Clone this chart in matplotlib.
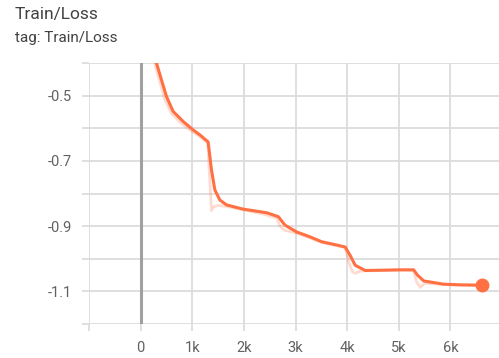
import matplotlib
matplotlib.use('Agg')
from matplotlib import pyplot
from matplotlib.ticker import FixedLocator, FuncFormatter

# smoothed training loss (step, value)
steps = [250, 305, 402, 499, 627, 821, 1016, 1160, 1307, 1372, 1437, 1534, 1664, 1987,
         2441, 2666, 2796, 3023, 3282, 3508, 3800, 3961, 4058, 4155, 4350, 4700, 5000,
         5287, 5360, 5482, 5870, 6200, 6615]
loss = [-0.37, -0.399, -0.451, -0.502, -0.548, -0.579, -0.605, -0.622, -0.642, -0.728,
        -0.789, -0.820, -0.835, -0.848, -0.859, -0.871, -0.897, -0.918, -0.933, -0.948,
        -0.958, -0.964, -0.99, -1.02, -1.036, -1.035, -1.034, -1.034, -1.05, -1.068,
        -1.078, -1.080, -1.081]

# raw training loss
raw_steps = [230, 280, 370, 460, 590, 780, 990, 1150, 1300, 1340, 1372, 1420, 1500,
             1600, 1800, 2052, 2350, 2634, 2700, 2780, 3087, 3508, 3800, 3961, 4030, 4100,
             4155, 4250, 4350, 4700, 5000, 5287, 5340, 5417, 5500, 5870, 6200, 6615]
raw_loss = [-0.37, -0.405, -0.457, -0.508, -0.553, -0.584, -0.609, -0.626, -0.646, -0.76,
            -0.852, -0.840, -0.837, -0.838, -0.844, -0.852, -0.862, -0.875, -0.900,
            -0.912, -0.925, -0.950, -0.960, -0.966, -1.01, -1.040, -1.045, -1.038,
            -1.037, -1.036, -1.035, -1.035, -1.07, -1.088, -1.075, -1.079, -1.081, -1.082]

y_ticks = [-1.2, -1.1, -1.0, -0.9, -0.8, -0.7, -0.6, -0.5, -0.4]
y_labels = {-1.1: '-1.1', -0.9: '-0.9', -0.7: '-0.7', -0.5: '-0.5'}
x_ticks = [-1000, 0, 1000, 2000, 3000, 4000, 5000, 6000]
x_labels = {0: '0', 1000: '1k', 2000: '2k', 3000: '3k', 4000: '4k', 5000: '5k', 6000: '6k'}

pyplot.rcParams['font.family'] = ['Roboto', 'DejaVu Sans']
line_color = '#ff7043'

fig = pyplot.figure(figsize=(4.99, 3.58), dpi=100)
ax = fig.add_axes([89 / 499, 1 - 324 / 358, 410 / 499, 261 / 358])

ax.plot(raw_steps, raw_loss, color=line_color, alpha=0.25, linewidth=2.0, zorder=3)
ax.plot(steps, loss, color=line_color, linewidth=2.2, zorder=4)
ax.plot(steps[-1], loss[-1], 'o', color=line_color, markersize=9, zorder=5)

ax.set_xlim(-1000, 6940)
ax.set_ylim(-1.2, -0.4)
ax.axvline(0, color='#a0a0a0', linewidth=2.2, zorder=2)

ax.xaxis.set_major_locator(FixedLocator(x_ticks))
ax.yaxis.set_major_locator(FixedLocator(y_ticks))
ax.xaxis.set_major_formatter(FuncFormatter(lambda v, p: x_labels.get(int(round(v)), '')))
ax.yaxis.set_major_formatter(FuncFormatter(lambda v, p: y_labels.get(round(v, 1), '')))
ax.grid(True, color='#dcdcdc', linewidth=1.3, zorder=1)
ax.tick_params(length=5, width=1.3, color='#dcdcdc', labelcolor='#616161', labelsize=10.5, pad=7)
for s in ax.spines.values():
    s.set_visible(False)

fig.text(15 / 499, 1 - 15 / 358, 'Train/Loss', fontsize=12.5, color='#424242', va='center')
fig.text(15 / 499, 1 - 38 / 358, 'tag: Train/Loss', fontsize=11, color='#424242', va='center')

pyplot.savefig('out.png', dpi=100)
pyplot.close()
